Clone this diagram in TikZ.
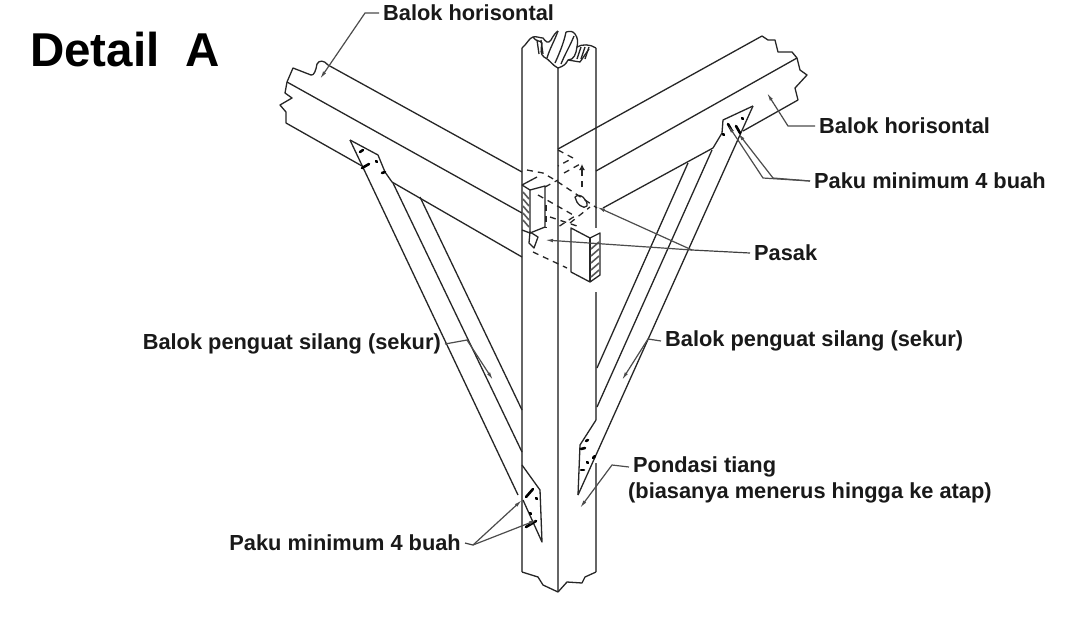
\documentclass[tikz,border=0pt]{standalone}
\usepackage{fontspec}
\setmainfont{Liberation Sans}
\usetikzlibrary{arrows.meta}
\begin{document}
\begin{tikzpicture}[x=1pt,y=-1pt]
        \tikzstyle{teks}=[anchor=west,inner sep=4pt,font=\fontsize{21.8}{24}\selectfont\bfseries,text=black!90]
        \tikzstyle{judul}=[anchor=west,inner sep=0pt,font=\fontsize{47.5}{50}\selectfont\bfseries]
        \tikzstyle{kayu}=[draw=black!85,line width=1.3pt,line join=round]
        \tikzstyle{tiang}=[draw=black!60,line width=1.8pt]
        \tikzstyle{putus}=[draw=black!85,line width=1.3pt,dash pattern=on 6pt off 5pt]
        \tikzstyle{leader}=[draw=black!70,line width=1.2pt,-{Latex[length=8pt,width=3.5pt]}]
        \tikzstyle{garis}=[draw=black!75,line width=1.2pt]
        \tikzstyle{paku}=[draw=black,line width=2.6pt,line cap=round]
        \tikzstyle{arsir}=[draw=black!65,line width=1.6pt]
        \useasboundingbox (0,0) rectangle (1088,633);
        \fill[white] (0,0) rectangle (1088,633);

        \node [judul] (judul) at (30,50) {Detail\ \ A};
        \node [teks] (balok1) at (379,13) {Balok horisontal};
        \node [teks] (balok2) at (815,126) {Balok horisontal};
        \node [teks] (paku1) at (810,181) {Paku minimum 4 buah};
        \node [teks] (pasak) at (750,253) {Pasak};
        \node [teks,anchor=east] (sekur1) at (445,344) {Balok penguat silang (sekur)};
        \node [teks] (sekur2) at (661,341) {Balok penguat silang (sekur)};
        \node [teks] (pondasi) at (629,467) {Pondasi tiang};
        \node [teks] (pondasi2) at (624,493) {(biasanya menerus hingga ke atap)};
        \node [teks,anchor=east] (paku2) at (465,543) {Paku minimum 4 buah};

        % tiang
        \path[tiang] (522,48) -- (522,572);
        \path[tiang] (558,68) -- (558,592);
        \path[tiang] (596,48) -- (596,228) (596,292) -- (596,420) (596,463) -- (596,572);
        \path[kayu] (522,48) .. controls (527,44) and (529,38) .. (533,37) .. controls (536,42) and (540,40) .. (542,43)
                 .. controls (541,50) and (540,54) .. (544,57) .. controls (549,59) and (553,66) .. (558,68)
                 .. controls (564,66) and (566,64) .. (568,60) .. controls (574,60) and (576,54) .. (577,47)
                 .. controls (582,44) and (590,44) .. (596,48);
        \path[kayu] (533,37) .. controls (536,36) and (540,38) .. (543,38) .. controls (546,42) and (548,44) .. (551,40)
                 .. controls (553,36) and (556,32) .. (558,31);
        \path[kayu] (566,32) .. controls (570,31) and (573,31) .. (575,34) .. controls (578,38) and (578,42) .. (577,47);
        \path[kayu] (547,58) .. controls (550,48) and (554,42) .. (558,31);
        \path[kayu] (555,63) .. controls (560,52) and (564,42) .. (566,32);
        \path[kayu] (561,64) .. controls (565,54) and (570,46) .. (574,36);
        \foreach \x in {537,541} {
          \draw[kayu] (\x,40) -- (\x+2,54);
        }
        \foreach \x in {581,585,589} {
          \draw[kayu] (\x,47) -- (\x-4,59);
        }
        \path[kayu] (568,60) -- (580,62) -- (589,49);
        \path[kayu] (522,572) -- (538,577) -- (543,585) -- (558,592) -- (567,582) -- (582,583) -- (585,577) -- (596,572);

        % balok kiri
        \path[kayu] (328,65) -- (522,172);
        \path[kayu] (287,82) -- (522,213);
        \path[kayu] (286,123) -- (362,166);
        \path[kayu] (392,182) -- (522,257);
        \path[kayu] (328,65) .. controls (324,60) and (319,60) .. (317,64) .. controls (316,70) and (314,76) .. (311,75)
                 -- (293,68) -- (287,82) -- (285,93) -- (292,98) -- (280,105) -- (286,112) -- (286,123);

        % balok kanan
        \path[kayu] (762,36) -- (558,149);
        \path[kayu] (797,58) -- (596,171);
        \path[kayu] (713,148) -- (603,208);
        \path[kayu] (743,131) -- (798,100);
        \path[kayu] (762,36) -- (768,40) -- (775,40) -- (778,52) -- (792,52) -- (797,58) -- (800,70) -- (807,75) -- (795,88) -- (798,100);

        % sekur kiri
        \path[kayu] (350,140) -- (378,155) -- (385,172) -- (392,182);
        \path[kayu] (350,140) -- (518,495);
        \path[kayu] (393,183) -- (522,452);
        \path[kayu] (420,197) -- (522,410);
        \path[kayu] (522,465) -- (540,490) -- (542,542) -- (523,500);

        % sekur kanan
        \path[kayu] (753,106) -- (723,120) -- (722,133) -- (713,148);
        \path[kayu] (753,106) -- (578,495);
        \path[kayu] (712,150) -- (597,407);
        \path[kayu] (688,163) -- (597,368);
        \path[kayu] (596,420) -- (580,445) -- (578,495);

        \foreach \x/\y/\a/\b in {360/152/3/-2,376/161/1/1,382/173/3/-1,362/168/7/-4,
                 742/118/1/1,723/134/1/1,728/124/4/7,736/126/4/7,
                 526/497/7/-8,536/498/1/1,530/513/1/1,526/527/10/-6,
                 586/441/2/-1,581/449/4/-1,587/462/1/1,593/458/2/-2,581/470/3/0} {
          \draw[paku] (\x,\y) -- ++(\a,\b);
        }

        % sambungan
        \path[kayu] (522,185) -- (530,190) -- (530,233) -- (522,230);
        \path[kayu] (530,190) -- (545,186) -- (545,227) -- (530,233);
        \path[kayu] (522,185) -- (537,177);
        \foreach \y in {192,199,206,213,220} {
          \draw[arsir] (523,\y) -- (529,\y+7);
        }
        \path[kayu,fill=white] (571,228) -- (590,238) -- (600,233) -- (600,275) -- (590,282) -- (571,272) -- cycle;
        \path[kayu] (590,238) -- (590,282);
        \foreach \y in {242,249,256,263,270} {
          \draw[arsir] (599,\y) -- (591,\y+7);
        }
        \path[kayu] (575,197) .. controls (580,192) and (588,200) .. (587,206) .. controls (584,210) and (576,204) .. (575,197);
        \path[kayu] (530,232) -- (538,237) -- (534,248) -- (529,243) -- cycle;
        \path[putus] (527,170) -- (543,173) -- (555,180) -- (597,208);
        \path[putus] (558,150) -- (573,158) -- (558,166);
        \path[putus] (564,173) -- (582,163);
        \path[putus] (582,187) -- (582,168);
        \path[putus] (533,252) -- (567,268);
        \path[putus] (550,217) -- (577,226);
        \path[putus] (538,195) -- (575,216) -- (558,227);
        \path[putus] (545,187) -- (558,180);
        \path[putus] (570,223) -- (590,207);
        \path[putus] (546,205) -- (546,228);
        \draw[-{Latex[length=6pt,width=6pt]},draw=black!85,line width=1.2pt] (582,172) -- (582,164);

        % penunjuk
        \coordinate (tip1) at (320,79);
        \coordinate (tip2) at (767,93);
        \coordinate (tip3a) at (728,125);
        \coordinate (tip3b) at (738,133);
        \coordinate (simpul) at (692,250);
        \coordinate (tip4a) at (597,207);
        \coordinate (tip4b) at (545,240);
        \coordinate (tip5) at (493,380);
        \coordinate (tip6) at (622,380);
        \coordinate (tip7) at (580,508);
        \coordinate (simpul8) at (473,545);
        \coordinate (tip8a) at (522,500);
        \coordinate (tip8b) at (537,520);

        \path[leader] (balok1.west) -- (365,13) -- (tip1);
        \path[leader] (balok2.west) -- (788,126) -- (tip2);
        \path[leader] (paku1.west) -- (763,178) -- (tip3a);
        \path[leader] (paku1.west) -- (773,178) -- (tip3b);
        \path[garis] (pasak.west) -- (simpul);
        \path[leader] (simpul) -- (tip4a);
        \path[leader] (simpul) -- (tip4b);
        \path[leader] (sekur1.east) -- (467,340) -- (tip5);
        \path[leader] (sekur2.west) -- (648,339) -- (tip6);
        \path[leader] (pondasi.west) -- (612,465) -- (tip7);
        \path[garis] (paku2.east) -- (simpul8);
        \path[leader] (simpul8) -- (tip8a);
        \path[leader] (simpul8) -- (tip8b);
\end{tikzpicture}
\end{document}
